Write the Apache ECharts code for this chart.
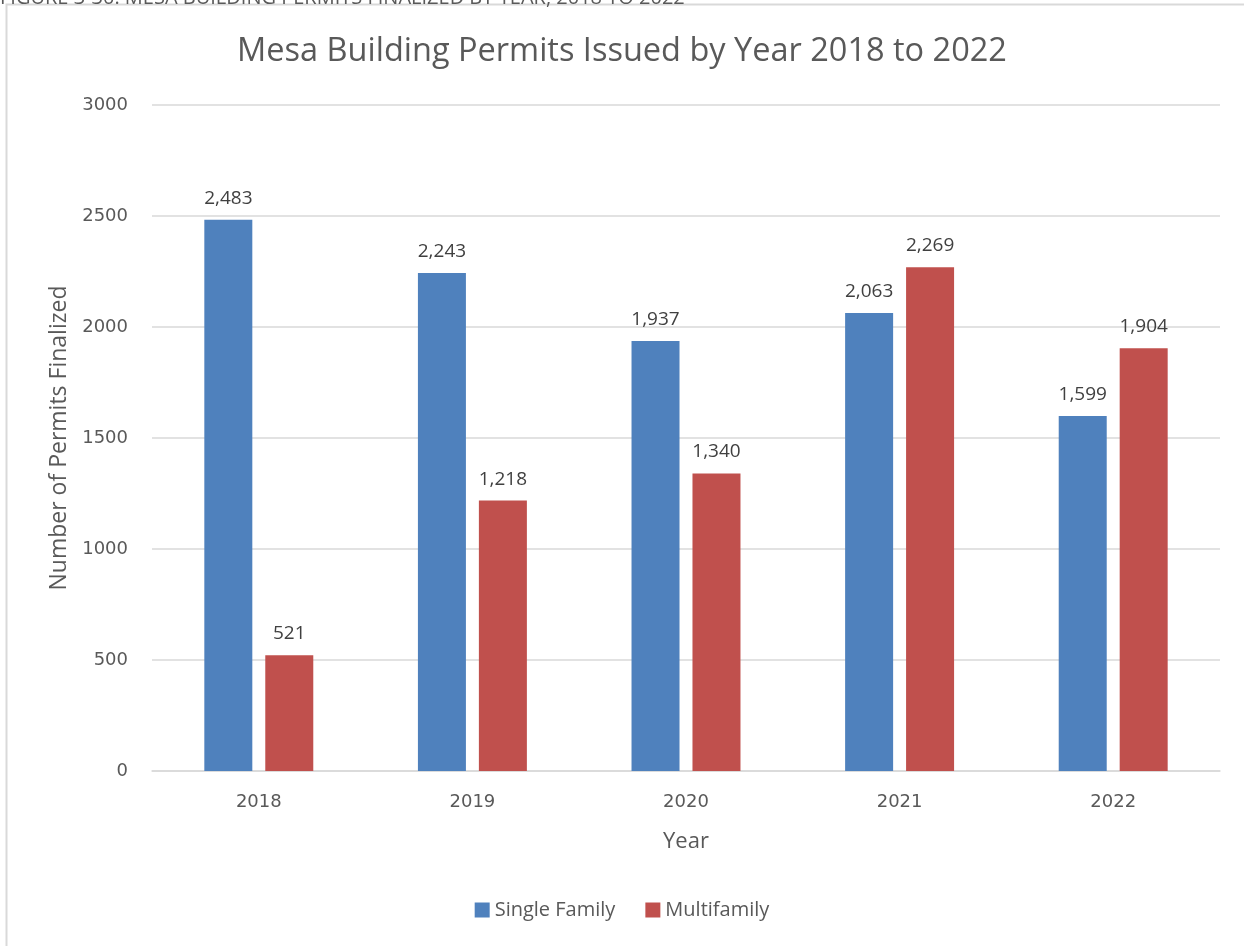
<!DOCTYPE html>
<html>
<head>
<meta charset="utf-8">
<script src="https://cdn.jsdelivr.net/npm/echarts@6/dist/echarts.min.js"></script>
<style>
  html, body { margin: 0; padding: 0; background: #fff; }
  #chart { width: 1244px; height: 946px; }
</style>
</head>
<body>
<div id="chart"></div>
<script>
// Permits finalized per year, by housing type
const years = ['2018', '2019', '2020', '2021', '2022'];
const singleFamily = [2483, 2243, 1937, 2063, 1599];
const multifamily = [521, 1218, 1340, 2269, 1904];
const seriesNames = ['Single Family', 'Multifamily'];

const textColor = '#595959';
const gridColor = '#d9d9d9';
const font = '"Open Sans", "Noto Sans", sans-serif';
const tickFont = '"DejaVu Sans", sans-serif';

const chart = echarts.init(document.getElementById('chart'));

const labelCfg = {
  show: true,
  position: 'top',
  distance: 12,
  color: '#404040',
  fontSize: 19,
  fontFamily: font,
  formatter: p => p.value.toLocaleString('en-US')
};

chart.setOption({
  backgroundColor: '#fff',
  animation: false,
  title: {
    text: 'Mesa Building Permits Issued by Year 2018 to 2022',
    left: 'center',
    top: 30,
    textStyle: { color: textColor, fontSize: 32.5, fontWeight: 'normal', fontFamily: font }
  },
  graphic: [
    {
      type: 'rect',
      shape: { x: 6.5, y: 4.5, width: 1300, height: 1000 },
      style: { fill: 'none', stroke: gridColor, lineWidth: 2 },
      silent: true
    },
    {
      type: 'text',
      left: 0,
      top: -12,
      style: {
        text: 'FIGURE 3-30: MESA BUILDING PERMITS FINALIZED BY YEAR, 2018 TO 2022',
        fill: textColor,
        fontSize: 20,
        fontFamily: font
      },
      silent: true
    }
  ],
  legend: {
    data: seriesNames,
    bottom: 21,
    left: 'center',
    itemWidth: 15,
    itemHeight: 15,
    itemGap: 30,
    icon: 'rect',
    textStyle: { color: textColor, fontSize: 20, fontFamily: font }
  },
  grid: { left: 152, right: 24, top: 105, bottom: 175 },
  xAxis: {
    type: 'category',
    data: years,
    name: 'Year',
    nameLocation: 'middle',
    nameGap: 60,
    nameTextStyle: { color: textColor, fontSize: 22, fontFamily: font },
    axisLine: { lineStyle: { color: gridColor, width: 1.5 } },
    axisTick: { show: false },
    axisLabel: { color: textColor, fontSize: 18, margin: 22, fontFamily: tickFont }
  },
  yAxis: {
    type: 'value',
    min: 0,
    max: 3000,
    interval: 500,
    name: 'Number of Permits Finalized',
    nameLocation: 'middle',
    nameGap: 80,
    nameTextStyle: { color: textColor, fontSize: 23, fontFamily: font },
    axisLine: { show: false },
    axisTick: { show: false },
    axisLabel: { color: textColor, fontSize: 18, margin: 24, fontFamily: tickFont, formatter: v => String(v) },
    splitLine: { lineStyle: { color: gridColor, width: 1.5 } }
  },
  series: [
    {
      name: seriesNames[0],
      type: 'bar',
      data: singleFamily,
      itemStyle: { color: '#4f81bd' },
      barWidth: 48,
      barGap: '27%',
      label: labelCfg
    },
    {
      name: seriesNames[1],
      type: 'bar',
      data: multifamily,
      itemStyle: { color: '#c0504d' },
      barWidth: 48,
      barGap: '27%',
      label: labelCfg
    }
  ]
});
</script>
</body>
</html>
